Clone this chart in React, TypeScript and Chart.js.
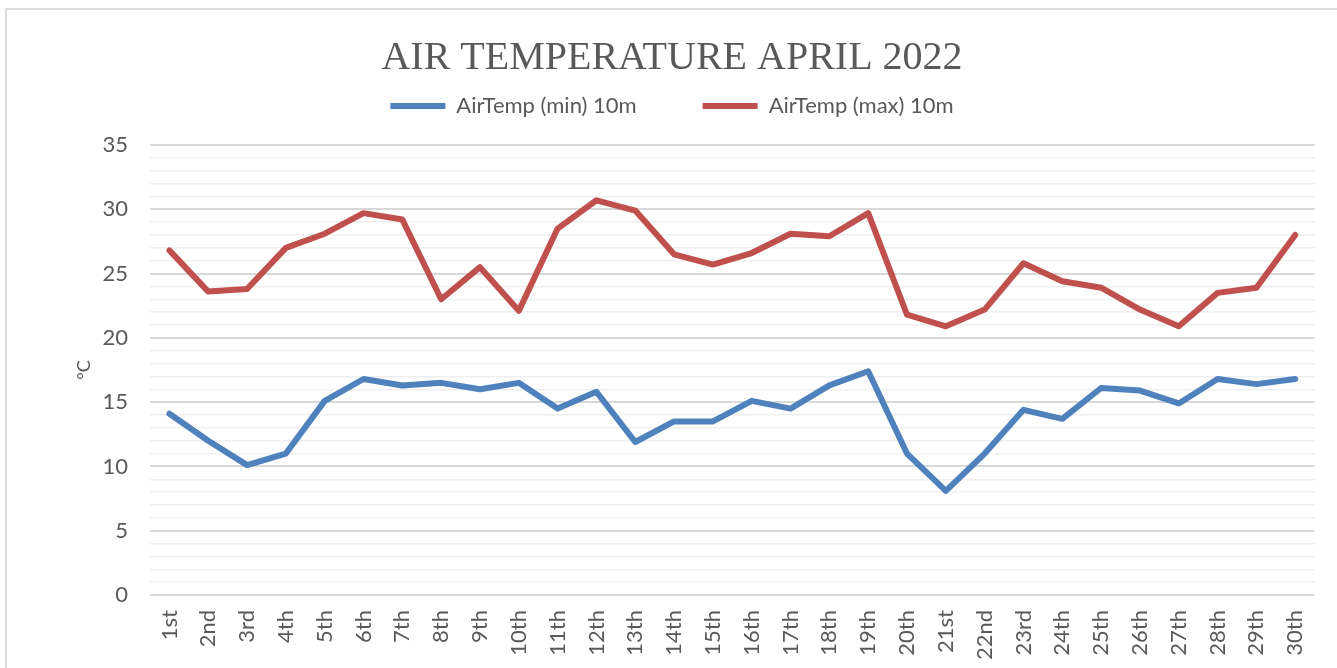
import React, { useEffect, useRef } from "react";
import { Chart, registerables } from "chart.js";

Chart.register(...registerables);

const days = [
  "1st", "2nd", "3rd", "4th", "5th", "6th", "7th", "8th", "9th", "10th",
  "11th", "12th", "13th", "14th", "15th", "16th", "17th", "18th", "19th", "20th",
  "21st", "22nd", "23rd", "24th", "25th", "26th", "27th", "28th", "29th", "30th",
];

const airTempMin = [
  14.1, 12.0, 10.1, 11.0, 15.1, 16.8, 16.3, 16.5, 16.0, 16.5,
  14.5, 15.8, 11.9, 13.5, 13.5, 15.1, 14.5, 16.3, 17.4, 11.0,
  8.1, 11.0, 14.4, 13.7, 16.1, 15.9, 14.9, 16.8, 16.4, 16.8,
];

const airTempMax = [
  26.8, 23.6, 23.8, 27.0, 28.1, 29.7, 29.2, 23.0, 25.5, 22.1,
  28.5, 30.7, 29.9, 26.5, 25.7, 26.6, 28.1, 27.9, 29.7, 21.8,
  20.9, 22.2, 25.8, 24.4, 23.9, 22.2, 20.9, 23.5, 23.9, 28.0,
];

const seriesNames = ["AirTemp (min) 10m", "AirTemp (max) 10m"];
const chartTitle = "AIR TEMPERATURE APRIL 2022";
const yAxisTitle = "°C";
const yMin = 0;
const yMax = 35;
const yMajorStep = 5;

const TEXT = "#595959";
const BLUE = "#4F81BD";
const RED = "#C0504D";

export default function App() {
  const canvasRef = useRef<HTMLCanvasElement | null>(null);

  useEffect(() => {
    const canvas = canvasRef.current;
    if (!canvas) return;
    const chart = new Chart(canvas, {
      type: "line",
      data: {
        labels: days,
        datasets: [
          {
            label: seriesNames[0],
            data: airTempMin,
            borderColor: BLUE,
            backgroundColor: BLUE,
            borderWidth: 6,
            pointRadius: 0,
            pointHoverRadius: 0,
            tension: 0,
            borderCapStyle: "round",
            borderJoinStyle: "round",
            pointStyle: "line",
          },
          {
            label: seriesNames[1],
            data: airTempMax,
            borderColor: RED,
            backgroundColor: RED,
            borderWidth: 6,
            pointRadius: 0,
            pointHoverRadius: 0,
            tension: 0,
            borderCapStyle: "round",
            borderJoinStyle: "round",
            pointStyle: "line",
          },
        ],
      },
      options: {
        responsive: false,
        animation: false,
        devicePixelRatio: 1,
        layout: { padding: { left: 27, right: 20, top: 0, bottom: 0 } },
        plugins: {
          tooltip: { enabled: false },
          title: {
            display: true,
            text: chartTitle,
            color: TEXT,
            font: { family: "'Liberation Serif', serif", size: 40, weight: "normal" },
            padding: { top: 34.5, bottom: -53.5 },
          },
          legend: {
            display: true,
            position: "top",
            labels: {
              usePointStyle: true,
              pointStyleWidth: 55,
              padding: 66,
              color: TEXT,
              font: { family: "Lato", size: 22 },
            },
          },
        },
        scales: {
          x: {
            type: "category",
            position: "bottom",
            offset: true,
            grid: { display: false, drawTicks: false },
            border: { display: false },
            ticks: {
              autoSkip: false,
              minRotation: 90,
              maxRotation: 90,
              padding: 15,
              color: TEXT,
              font: { family: "Lato", size: 22 },
            },
            afterFit: (s: any) => {
              s.height = 73;
            },
          },
          x2: {
            type: "category",
            position: "top",
            display: true,
            grid: { display: false, drawTicks: true, tickLength: 18 },
            border: { display: false },
            ticks: { display: false },
          },
          y: {
            type: "linear",
            min: yMin,
            max: yMax,
            border: { display: false },
            grid: {
              drawTicks: false,
              color: (ctx: any) =>
                ctx.tick && ctx.tick.value % yMajorStep === 0 ? "#d9d9d9" : "#efefef",
              lineWidth: (ctx: any) =>
                ctx.tick && ctx.tick.value % yMajorStep === 0 ? 2 : 1.5,
            },
            ticks: {
              stepSize: 1,
              maxTicksLimit: 100,
              autoSkip: false,
              padding: 22,
              color: TEXT,
              font: { family: "Lato", size: 22 },
              callback: (v: any) => (Number(v) % yMajorStep === 0 ? String(v) : ""),
            },
            title: {
              display: true,
              text: yAxisTitle,
              color: TEXT,
              font: { family: "Lato", size: 18 },
              padding: { top: 46, bottom: 0 },
            },
            afterFit: (s: any) => {
              s.width = 123;
            },
          },
        },
      },
    });
    return () => {
      chart.destroy();
    };
  }, []);

  return (
    <div
      style={{
        position: "fixed",
        left: 0,
        top: 0,
        width: 1337,
        height: 668,
        overflow: "hidden",
        background: "#ffffff",
      }}
    >
      <div
        style={{
          position: "absolute",
          left: 5,
          top: 8,
          width: 1500,
          height: 900,
          border: "2px solid #dcdcdc",
          boxSizing: "border-box",
          pointerEvents: "none",
        }}
      />
      <canvas
        ref={canvasRef}
        width={1337}
        height={668}
        style={{ position: "absolute", left: 0, top: 0, width: 1337, height: 668 }}
      />
    </div>
  );
}
